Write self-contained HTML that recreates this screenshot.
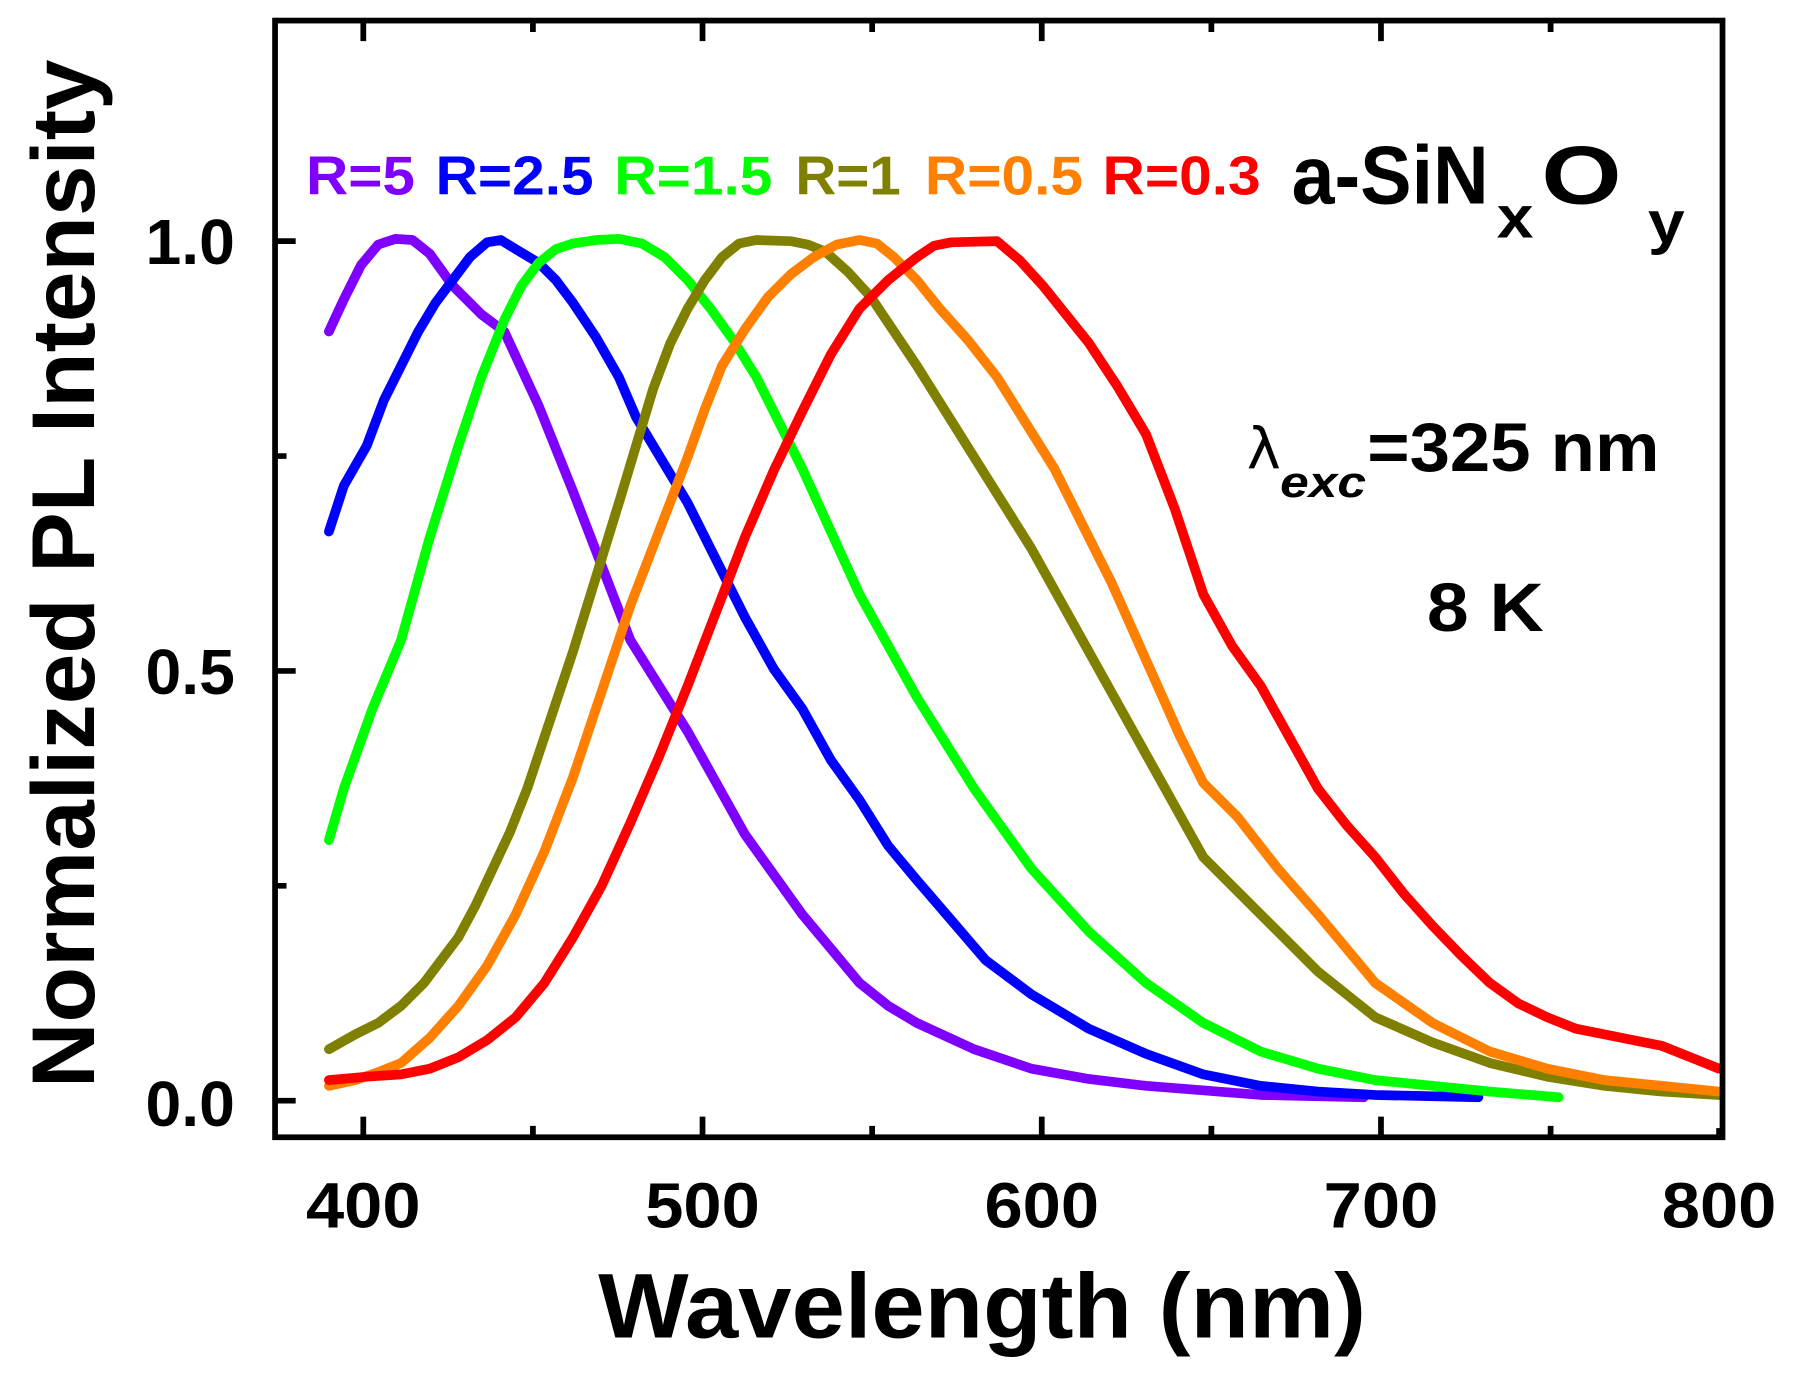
<!DOCTYPE html>
<html><head><meta charset="utf-8"><style>html,body{margin:0;padding:0;background:#fff}svg{display:block}</style></head>
<body>
<svg width="1797" height="1383" viewBox="0 0 1568 1210" preserveAspectRatio="none" xmlns="http://www.w3.org/2000/svg" font-family="Liberation Sans, Arial, sans-serif" font-weight="bold">
<g fill="none" stroke-width="8.5" stroke-linejoin="round" stroke-linecap="round">
<polyline stroke="#8000ff" points="287,290 300,262 315,232 330,214 345,209 360,210 375,222 395,250 420,275 440,290 470,355 500,430 525,495 550,560 575,600 600,640 625,685 650,730 675,765 700,800 725,830 750,860 775,880 800,895 850,918 900,935 950,944 1000,950 1100,958 1190,960"/>
<polyline stroke="#0000ff" points="287,465 300,425 320,390 335,350 350,320 365,290 380,265 395,245 410,225 425,212 437,210 450,218 470,230 485,245 500,265 520,295 540,330 555,365 570,390 585,415 600,440 625,490 650,540 675,585 700,620 725,665 750,700 775,740 800,770 830,805 860,840 900,870 950,900 1000,922 1050,940 1100,950 1150,955 1200,958 1290,960"/>
<polyline stroke="#00ff00" points="287,735 300,690 325,620 350,560 375,470 400,390 420,330 440,280 455,250 470,230 485,218 500,213 520,210 540,209 560,213 580,225 600,245 620,270 640,298 660,330 680,370 700,410 725,465 750,520 775,565 800,610 825,650 850,690 875,725 900,760 950,815 1000,860 1050,895 1100,920 1150,935 1200,945 1250,950 1300,955 1360,960"/>
<polyline stroke="#808000" points="287,918 310,905 330,895 350,880 370,860 385,840 400,820 415,792 430,760 445,728 460,690 480,630 500,570 520,505 540,440 555,390 570,340 585,300 600,270 615,245 630,225 645,213 660,210 690,211 705,214 720,220 740,238 760,260 780,290 800,320 825,360 850,400 875,440 900,480 925,525 950,570 975,615 1000,660 1025,705 1050,750 1075,775 1100,800 1125,825 1150,850 1175,870 1200,890 1250,912 1300,930 1350,942 1400,950 1450,955 1500,958"/>
<polyline stroke="#ff8000" points="287,950 310,945 330,938 350,930 375,908 400,880 425,845 450,800 475,745 500,680 525,605 550,530 575,465 600,400 615,358 630,320 650,288 670,260 690,240 710,225 730,214 750,210 765,213 780,225 800,245 820,270 845,298 870,330 895,370 920,410 945,460 970,510 990,555 1010,600 1030,645 1050,685 1080,715 1115,760 1150,800 1175,830 1200,860 1250,895 1300,920 1350,935 1400,945 1450,950 1500,955"/>
<polyline stroke="#ff0000" points="287,945 320,942 350,940 375,935 400,925 425,910 450,890 475,860 500,820 525,775 550,720 575,662 600,600 625,535 650,470 675,412 700,360 725,310 750,270 775,245 800,225 815,215 830,212 870,211 890,228 910,250 930,275 950,300 975,338 1000,380 1025,445 1050,520 1075,565 1100,600 1125,645 1150,690 1175,722 1200,750 1225,782 1250,810 1275,836 1300,860 1325,878 1350,890 1375,900 1400,905 1425,910 1450,915 1475,925 1500,935"/>
</g>
<g stroke="#000" stroke-width="5" fill="none">
<rect x="240" y="18" width="1263" height="977"/>
<path d="M317 995v-18M465 995v-10M613 995v-18M761 995v-10M909 995v-18M1057 995v-10M1205 995v-18M1353 995v-10M1500 995v-8
M317 18v18M465 18v10M613 18v18M761 18v10M909 18v18M1057 18v10M1205 18v18M1353 18v10
M240 963h18M240 775h10M240 587h18M240 399h10M240 211h18"/>
</g>
<g font-size="56" text-anchor="end" fill="#000">
<text x="205" y="231" textLength="78" lengthAdjust="spacingAndGlyphs">1.0</text>
<text x="205" y="607" textLength="78" lengthAdjust="spacingAndGlyphs">0.5</text>
<text x="205" y="985" textLength="78" lengthAdjust="spacingAndGlyphs">0.0</text>
</g>
<g font-size="56" text-anchor="middle" fill="#000">
<text x="317" y="1074" textLength="100" lengthAdjust="spacingAndGlyphs">400</text>
<text x="613" y="1074" textLength="100" lengthAdjust="spacingAndGlyphs">500</text>
<text x="909" y="1074" textLength="100" lengthAdjust="spacingAndGlyphs">600</text>
<text x="1205" y="1074" textLength="100" lengthAdjust="spacingAndGlyphs">700</text>
<text x="1500" y="1074" textLength="100" lengthAdjust="spacingAndGlyphs">800</text>
</g>
<text x="857" y="1170" font-size="80" text-anchor="middle" textLength="670" lengthAdjust="spacingAndGlyphs">Wavelength (nm)</text>
<text transform="translate(82,502) rotate(-90)" font-size="78" text-anchor="middle" textLength="900" lengthAdjust="spacingAndGlyphs">Normalized PL Intensity</text>
<g font-size="48">
<text x="267" y="170" fill="#8000ff" textLength="95" lengthAdjust="spacingAndGlyphs">R=5</text>
<text x="380" y="170" fill="#0000ff" textLength="138" lengthAdjust="spacingAndGlyphs">R=2.5</text>
<text x="536" y="170" fill="#00ff00" textLength="138" lengthAdjust="spacingAndGlyphs">R=1.5</text>
<text x="694" y="170" fill="#808000" textLength="92" lengthAdjust="spacingAndGlyphs">R=1</text>
<text x="807" y="170" fill="#ff8000" textLength="138" lengthAdjust="spacingAndGlyphs">R=0.5</text>
<text x="962" y="170" fill="#ff0000" textLength="138" lengthAdjust="spacingAndGlyphs">R=0.3</text>
</g>
<text x="1127" y="178" font-size="72" textLength="172" lengthAdjust="spacingAndGlyphs">a-SiN</text>
<text x="1306" y="208" font-size="52" textLength="32" lengthAdjust="spacingAndGlyphs">x</text>
<text x="1345" y="178" font-size="72" textLength="70" lengthAdjust="spacingAndGlyphs">O</text>
<text x="1438" y="212" font-size="52" textLength="32" lengthAdjust="spacingAndGlyphs">y</text>
<text x="1088" y="410" font-size="50" font-weight="normal" font-family="DejaVu Sans, sans-serif">λ</text>
<text x="1117" y="435" font-size="38" font-style="italic" textLength="75" lengthAdjust="spacingAndGlyphs">exc</text>
<text x="1193" y="412" font-size="60" textLength="255" lengthAdjust="spacingAndGlyphs">=325 nm</text>
<text x="1245" y="552" font-size="60" textLength="102" lengthAdjust="spacingAndGlyphs">8 K</text>
</svg>
</body></html>
